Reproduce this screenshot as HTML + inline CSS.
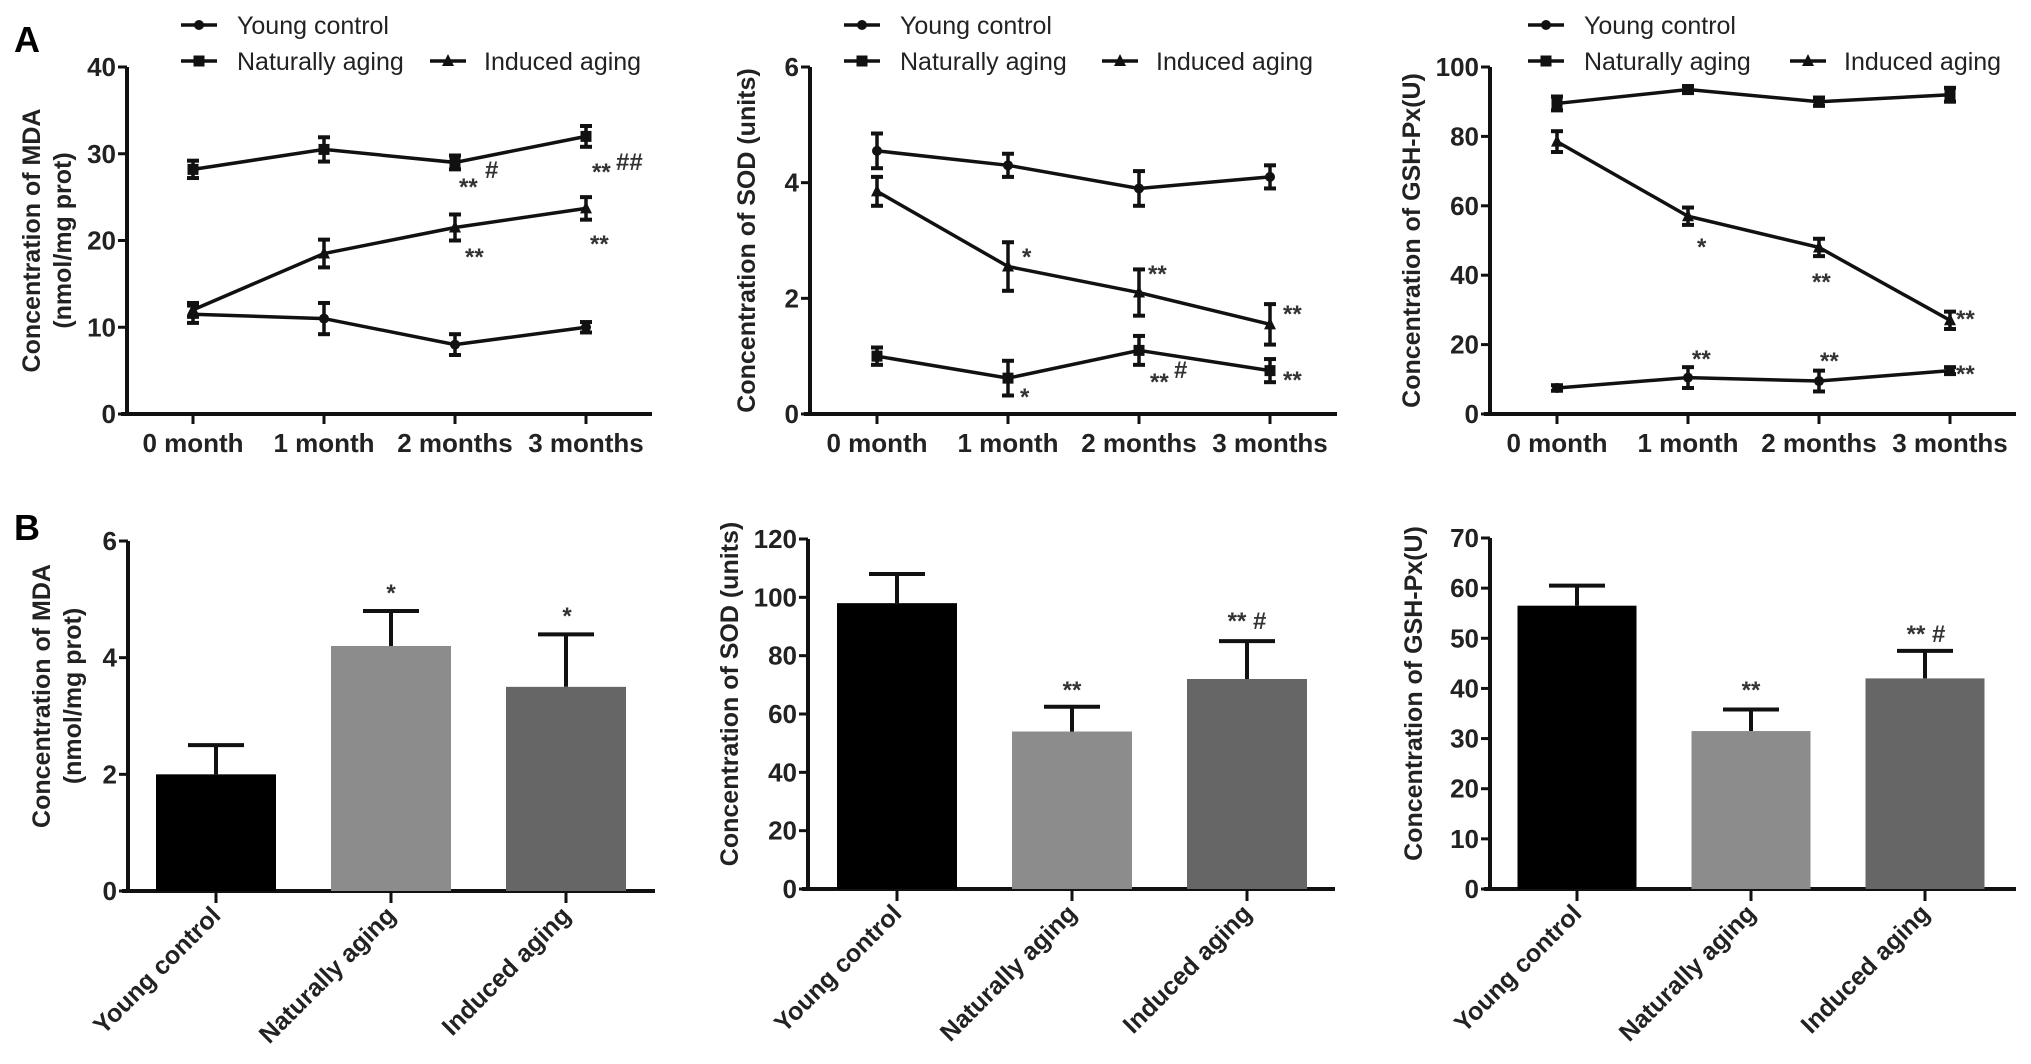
<!DOCTYPE html>
<html><head><meta charset="utf-8"><style>
html,body{margin:0;padding:0;background:#fff;}
svg{display:block;font-family:"Liberation Sans",Arial,sans-serif;}
</style></head><body>
<svg id="fig" width="2031" height="1064" viewBox="0 0 2031 1064" xmlns="http://www.w3.org/2000/svg">
<text x="14" y="52" font-size="36" font-weight="bold">A</text>
<text x="14" y="540" font-size="36" font-weight="bold">B</text>
</svg>
<script>
// ---- Line chart data (panel A) ----
const timeLabels = ["0 month","1 month","2 months","3 months"];
const seriesNames = ["Young control","Naturally aging","Induced aging"];
// MDA
const mdaYoung = [11.5, 11, 8, 10];
const mdaYoungErr = [1, 1.8, 1.2, 0.6];
const mdaNatural = [28.2, 30.5, 29, 32];
const mdaNaturalErr = [1, 1.4, 0.8, 1.2];
const mdaInduced = [12, 18.5, 21.5, 23.7];
const mdaInducedErr = [0.8, 1.6, 1.5, 1.3];
const mdaTicks = [0,10,20,30,40];
// SOD
const sodYoung = [4.55, 4.3, 3.9, 4.1];
const sodYoungErr = [0.3, 0.2, 0.3, 0.2];
const sodNatural = [1.0, 0.62, 1.1, 0.75];
const sodNaturalErr = [0.15, 0.3, 0.25, 0.2];
const sodInduced = [3.85, 2.55, 2.1, 1.55];
const sodInducedErr = [0.25, 0.42, 0.4, 0.35];
const sodTicks = [0,2,4,6];
// GSH-Px
const gshYoung = [89.5, 93.5, 90, 92];
const gshYoungErr = [2, 1, 1.2, 2];
const gshNatural = [7.5, 10.5, 9.5, 12.5];
const gshNaturalErr = [0.8, 3, 3, 1];
const gshInduced = [78.5, 57, 48, 27];
const gshInducedErr = [3, 2.5, 2.5, 2.5];
const gshTicks = [0,20,40,60,80,100];

// ---- Bar chart data (panel B) ----
const groupLabels = ["Young control","Naturally aging","Induced aging"];
const barMda = [2.0, 4.2, 3.5];
const barMdaErr = [0.5, 0.6, 0.9];
const barMdaTicks = [0,2,4,6];
const barSod = [98, 54, 72];
const barSodErr = [10, 8.5, 13];
const barSodTicks = [0,20,40,60,80,100,120];
const barGsh = [56.5, 31.5, 42];
const barGshErr = [4, 4.3, 5.5];
const barGshTicks = [0,10,20,30,40,50,60,70];
const barColors = ["#000000","#8c8c8c","#666666"];

const NS = "http://www.w3.org/2000/svg";
const svg = document.getElementById('fig');
function mk(tag, attrs, parent){
  const e = document.createElementNS(NS, tag);
  for (const k in attrs) e.setAttribute(k, attrs[k]);
  (parent||svg).appendChild(e);
  return e;
}
function txt(parent, x, y, s, size, weight, anchor){
  const t = mk('text', {x:x, y:y, 'font-size':size, 'font-weight':weight||'normal', 'text-anchor':anchor||'start', fill:'#222'}, parent);
  t.textContent = s;
  return t;
}

function axes(g, ax, ticks){
  const ys = v => ax.y0 - (v - ticks[0])/(ticks[ticks.length-1]-ticks[0])*(ax.y0-ax.y1);
  const yAxis = mk('line',{x1:ax.x0,y1:ax.y1,x2:ax.x0,y2:ax.y0+2,stroke:'#111','stroke-width':4},g);
  
  
  const xAxis = mk('line',{x1:ax.x0-6,y1:ax.y0,x2:ax.xEnd,y2:ax.y0,stroke:'#111','stroke-width':4},g);
  
  
  ticks.forEach(t=>{
    const y = ys(t);
    mk('line',{x1:ax.x0-9,y1:y,x2:ax.x0,y2:y,stroke:'#111','stroke-width':3},g);
    const l = txt(g, ax.x0-11, y+9, String(t), 26, 'bold', 'end');
    
    
  });
  return ys;
}
function ylabel(g, x, y, lines){
  const t = mk('text',{transform:`translate(${x},${y}) rotate(-90)`, 'font-size':25, 'font-weight':'bold','text-anchor':'middle',fill:'#222'},g);
  
  
  lines.forEach((s,i)=>{
    const ts = mk('tspan',{x:0, dy: i===0 ? 0 : 31},t);
    ts.textContent = s;
  });
}
function marker(g, kind, x, y){
  let m;
  if (kind==='circle') m = mk('circle',{cx:x,cy:y,r:5,fill:'#111'},g);
  else if (kind==='square') m = mk('rect',{x:x-5.5,y:y-5.5,width:11,height:11,fill:'#111'},g);
  else m = mk('polygon',{points:`${x},${y-7} ${x-6},${y+5} ${x+6},${y+5}`,fill:'#111'},g);
  return m;
}
function lineChart(name, ax, ticks, series, labelX, labelLines, notes){
  const g = mk('g',{});
  
  
  const ys = axes(g, ax, ticks);
  const xs = i => ax.xt[0] + i*(ax.xt[1]-ax.xt[0]);
  timeLabels.forEach((s,i)=>{
    mk('line',{x1:xs(i),y1:ax.y0,x2:xs(i),y2:ax.y0+10,stroke:'#111','stroke-width':3},g);
    const l = txt(g, xs(i), ax.y0+38, s, 26, 'bold', 'middle');
    
    
  });
  series.forEach(sr=>{
    const sg = mk('g',{},g);
    
    
    const pts = sr.v.map((v,i)=>`${xs(i)},${ys(v)}`).join(' ');
    const pl = mk('polyline',{points:pts,fill:'none',stroke:'#111','stroke-width':3.5},sg);
    
    
    sr.v.forEach((v,i)=>{
      const x = xs(i), yt = ys(v+sr.e[i]), yb = ys(v-sr.e[i]);
      mk('line',{x1:x,y1:yt,x2:x,y2:yb,stroke:'#111','stroke-width':3.5},sg);
      mk('line',{x1:x-6,y1:yt,x2:x+6,y2:yt,stroke:'#111','stroke-width':4},sg);
      mk('line',{x1:x-6,y1:yb,x2:x+6,y2:yb,stroke:'#111','stroke-width':4},sg);
      const m = marker(sg, sr.kind, x, ys(v));
      
      
    });
  });
  ylabel(g, labelX, (ax.y0+ax.y1)/2, labelLines);
  const leg = mk('g',{},g);
  
  
  const L = ax.leg;
  const entries = [[L.x1, L.r1, 'circle', seriesNames[0], 56],[L.x1, L.r2, 'square', seriesNames[1], 56],[L.x2, L.r2, 'triangle', seriesNames[2], 54]];
  entries.forEach(en=>{
    const eg = mk('g',{},leg);
    
    
    mk('line',{x1:en[0],y1:en[1],x2:en[0]+36,y2:en[1],stroke:'#111','stroke-width':3.5},eg);
    marker(eg, en[2], en[0]+18, en[1]);
    txt(eg, en[0]+en[4], en[1]+9, en[3], 25, 'normal', 'start');
  });
  notes.forEach(n=>{
    const t = txt(g, n[0], n[1], n[2], 24, 'bold', 'start');
    t.setAttribute('fill','#333');
    
    
  });
}

function barChart(name, ax, ticks, vals, errs, labelX, labelLines, notes){
  const g = mk('g',{});
  
  
  const ys = axes(g, ax, ticks);
  const xs = i => ax.xt[0] + i*(ax.xt[1]-ax.xt[0]);
  vals.forEach((v,i)=>{
    const x = xs(i);
    const yt = ys(v+errs[i]);
    mk('line',{x1:x,y1:ys(v),x2:x,y2:yt,stroke:'#111','stroke-width':4},g);
    mk('line',{x1:x-28,y1:yt,x2:x+28,y2:yt,stroke:'#111','stroke-width':4},g);
    const b = mk('rect',{x:x-ax.bw/2,y:ys(v),width:ax.bw,height:ax.y0-ys(v),fill:barColors[i]},g);
    
    
    mk('line',{x1:x,y1:ax.y0,x2:x,y2:ax.y0+12,stroke:'#111','stroke-width':3},g);
    const l = mk('text',{transform:`translate(${x+6},${ax.y0+26}) rotate(-45)`,'font-size':25,'font-weight':'bold','text-anchor':'end',fill:'#222'},g);
    l.textContent = groupLabels[i];
    
    
  });
  ylabel(g, labelX, (ax.y0+ax.y1)/2 - 20, labelLines);
  notes.forEach(n=>{
    const t = txt(g, n[0], n[1], n[2], 24, 'bold', 'middle');
    t.setAttribute('fill','#333');
    
    
  });
}

lineChart('mda-line-chart',{x0:127,y0:414,y1:67,xEnd:652,xt:[193,324],leg:{x1:181,x2:430,r1:25,r2:61}},mdaTicks,
  [{name:'young-control-series',kind:'circle',v:mdaYoung,e:mdaYoungErr},
   {name:'naturally-aging-series',kind:'square',v:mdaNatural,e:mdaNaturalErr},
   {name:'induced-aging-series',kind:'triangle',v:mdaInduced,e:mdaInducedErr}],
  40,['Concentration of MDA','(nmol/mg prot)'],
  [[459,195,'**'],[485,178,'#'],[592,180,'**'],[616,170,'##'],[465,265,'**'],[590,252,'**']]);

lineChart('sod-line-chart',{x0:810,y0:414,y1:67,xEnd:1337,xt:[877,1008],leg:{x1:844,x2:1102,r1:25,r2:61}},sodTicks,
  [{name:'young-control-series',kind:'circle',v:sodYoung,e:sodYoungErr},
   {name:'naturally-aging-series',kind:'square',v:sodNatural,e:sodNaturalErr},
   {name:'induced-aging-series',kind:'triangle',v:sodInduced,e:sodInducedErr}],
  755,['Concentration of SOD (units)'],
  [[1022,265,'*'],[1148,282,'**'],[1283,322,'**'],[1020,405,'*'],[1150,390,'**'],[1174,378,'#'],[1283,388,'**']]);

lineChart('gsh-line-chart',{x0:1490,y0:414,y1:67,xEnd:2016,xt:[1557,1688],leg:{x1:1528,x2:1790,r1:25,r2:61}},gshTicks,
  [{name:'naturally-aging-series',kind:'square',v:gshYoung,e:gshYoungErr},
   {name:'young-control-series',kind:'circle',v:gshNatural,e:gshNaturalErr},
   {name:'induced-aging-series',kind:'triangle',v:gshInduced,e:gshInducedErr}],
  1420,['Concentration of GSH-Px(U)'],
  [[1697,255,'*'],[1812,290,'**'],[1956,327,'**'],[1692,367,'**'],[1820,369,'**'],[1956,382,'**']]);

barChart('mda-bar-chart',{x0:128,y0:891,y1:541,xEnd:655,xt:[216,391],bw:120},barMdaTicks,barMda,barMdaErr,
  50,['Concentration of MDA','(nmol/mg prot)'],[[391,601,'*'],[567,624,'*']]);
barChart('sod-bar-chart',{x0:808,y0:889,y1:539,xEnd:1335,xt:[897,1072],bw:120},barSodTicks,barSod,barSodErr,
  738,['Concentration of SOD (units)'],[[1072,698,'**'],[1247,629,'** #']]);
barChart('gsh-bar-chart',{x0:1490,y0:889,y1:538,xEnd:2016,xt:[1577,1751],bw:119},barGshTicks,barGsh,barGshErr,
  1422,['Concentration of GSH-Px(U)'],[[1751,698,'**'],[1926,642,'** #']]);
</script>
</body></html>
